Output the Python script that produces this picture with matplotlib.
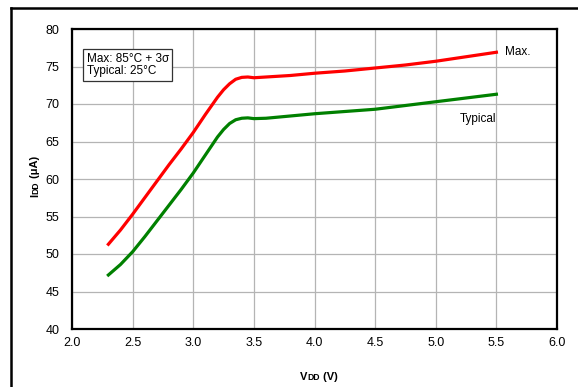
import matplotlib.pyplot as plt
from matplotlib.lines import Line2D

plt.rcParams['font.family'] = ['Liberation Sans', 'DejaVu Sans']

# VDD (V) vs IDD (uA)
vdd = [2.3, 2.4, 2.5, 2.6, 2.7, 2.8, 2.9, 3.0, 3.1, 3.2, 3.25, 3.3, 3.35, 3.4, 3.45,
       3.5, 3.6, 3.8, 4.0, 4.25, 4.5, 4.75, 5.0, 5.25, 5.5]
idd_max = [51.3, 53.2, 55.3, 57.5, 59.7, 61.9, 64.0, 66.2, 68.6, 70.9, 71.9, 72.7,
           73.3, 73.55, 73.6, 73.5, 73.6, 73.8, 74.1, 74.4, 74.8, 75.2, 75.7, 76.3, 76.9]
idd_typ = [47.2, 48.6, 50.3, 52.3, 54.4, 56.5, 58.6, 60.8, 63.2, 65.6, 66.6, 67.4,
           67.9, 68.1, 68.15, 68.05, 68.1, 68.4, 68.7, 69.0, 69.3, 69.8, 70.3, 70.8, 71.3]
xticks = [2.0, 2.5, 3.0, 3.5, 4.0, 4.5, 5.0, 5.5, 6.0]
yticks = [40, 45, 50, 55, 60, 65, 70, 75, 80]

W, H = 578, 387
fig = plt.figure(figsize=(W / 100, H / 100), dpi=100)
ax = fig.add_axes([72 / W, 1 - 329 / H, (557 - 72) / W, (329 - 29) / H])

ax.plot(vdd, idd_max, color='#ff0000', lw=2.3, solid_joinstyle='round', zorder=3)
ax.plot(vdd, idd_typ, color='#008000', lw=2.3, solid_joinstyle='round', zorder=3)

ax.set_xlim(2.0, 6.0)
ax.set_ylim(40, 80)
ax.set_xticks(xticks)
ax.set_xticklabels([f'{v:.1f}' for v in xticks])
ax.set_yticks(yticks)
ax.tick_params(length=0, labelsize=9, pad=6)
ax.tick_params(axis='y', pad=9)
ax.grid(True, color='#b4b4b4', lw=0.9)
ax.set_axisbelow(True)
for s in ax.spines.values():
    s.set_linewidth(1.6)

ax.text(5.57, 76.9, 'Max.', fontsize=8.5, va='center', ha='left')
ax.text(5.5, 68.0, 'Typical', fontsize=8.5, va='center', ha='right')
ax.text(2.12, 75.2, 'Max: 85°C + 3σ\nTypical: 25°C', fontsize=8.5, va='center', ha='left',
        linespacing=1.1,
        bbox=dict(boxstyle='square,pad=0.3', fc='white', ec='#333333', lw=0.9))

# axis labels with small "DD"
def label(parts, x, y, rotation):
    fig.canvas.draw()
    r = fig.canvas.get_renderer()
    for txt, size in parts:
        t = fig.text(x / W, 1 - y / H, txt, fontsize=size, fontweight='bold',
                     rotation=rotation, rotation_mode='anchor', ha='left', va='baseline')
        bb = t.get_window_extent(r)
        if rotation == 0:
            x += bb.width
        else:
            y -= bb.height

label([('V', 8), ('DD', 6.2), (' (V)', 8)], 300, 380, 0)
label([('I', 8), ('DD', 6.2), (' (μA)', 8)], 38, 197, 90)

# outer frame
fig.add_artist(Line2D([11 / W, 1], [1 - 8 / H, 1 - 8 / H], color='black', lw=1.8))
fig.add_artist(Line2D([11 / W, 11 / W], [0, 1 - 8 / H], color='black', lw=1.8))

fig.savefig('out.png', dpi=100)
